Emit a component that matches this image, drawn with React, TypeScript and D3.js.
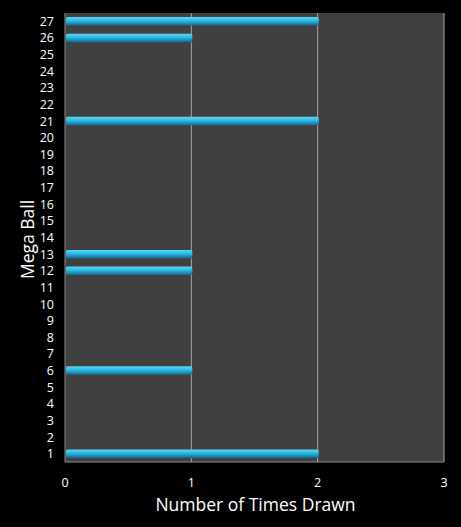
import React from "react";
import * as d3 from "d3";

const balls: number[] = d3.range(1, 28);
const drawnBalls = [1, 6, 12, 13, 21, 26, 27];
const drawnCounts = [2, 1, 1, 1, 2, 1, 2];
const xTicks = [0, 1, 2, 3];

const width = 461;
const height = 527;
const margin = {top: 13, right: 17, bottom: 65, left: 65};

export default function App(): JSX.Element {
    const plotW = width - margin.left - margin.right;
    const plotH = height - margin.top - margin.bottom;

    const x = d3.scaleLinear().domain([0, 3]).range([0, plotW]);
    const y = d3.scaleBand<number>()
        .domain(balls.slice().reverse())
        .range([0, plotH]);

    const barH = 8.5;
    const font = "'Open Sans', 'DejaVu Sans', sans-serif";

    return (
        <svg width={width} height={height}
             style={{position: "absolute", left: 0, top: 0, background: "#000"}}>
            <defs>
                <linearGradient id="barGrad" x1="0" y1="0" x2="0" y2="1">
                    <stop offset="0" stopColor="#5fd6f5"/>
                    <stop offset="0.45" stopColor="#29b9e6"/>
                    <stop offset="1" stopColor="#14698c"/>
                </linearGradient>
            </defs>
            <rect width={width} height={height} fill="#000"/>
            <g transform={`translate(${margin.left},${margin.top})`}>
                <rect width={plotW} height={plotH} fill="#404040"/>
                {xTicks.map(t => (
                    <line key={t} x1={x(t)} x2={x(t)} y1={0} y2={plotH}
                          stroke={t === 0 ? "#8a8a8a" : "#a6a6a6"} strokeWidth={1}/>
                ))}
                <line x1={0} x2={plotW} y1={plotH} y2={plotH} stroke="#8a8a8a"/>
                {drawnBalls.map((b, i) => (
                    <rect key={b}
                          x={x(0) + 1}
                          y={(y(b) || 0) + y.bandwidth() / 2 - barH / 2}
                          width={x(drawnCounts[i]) - x(0)}
                          height={barH}
                          rx={1.5}
                          fill="url(#barGrad)"/>
                ))}
                {balls.map(b => (
                    <text key={b} x={-11} y={(y(b) || 0) + y.bandwidth() / 2}
                          textAnchor="end" dominantBaseline="central"
                          fill="#fff" fontSize={12.5} fontFamily={font}>{b}</text>
                ))}
                {xTicks.map(t => (
                    <text key={t} x={x(t)} y={plotH + 20}
                          textAnchor="middle" dominantBaseline="central"
                          fill="#fff" fontSize={12.5} fontFamily={font}>{t}</text>
                ))}
                <text x={plotW / 2 + 1} y={plotH + 42} textAnchor="middle"
                      dominantBaseline="central" fill="#fff" fontSize={17.5}
                      fontFamily={font}>Number of Times Drawn</text>
                <text transform={`translate(${-38},${plotH / 2 + 2}) rotate(-90)`}
                      textAnchor="middle" dominantBaseline="central"
                      fill="#fff" fontSize={17.5} fontFamily={font}>Mega Ball</text>
            </g>
        </svg>
    );
}
